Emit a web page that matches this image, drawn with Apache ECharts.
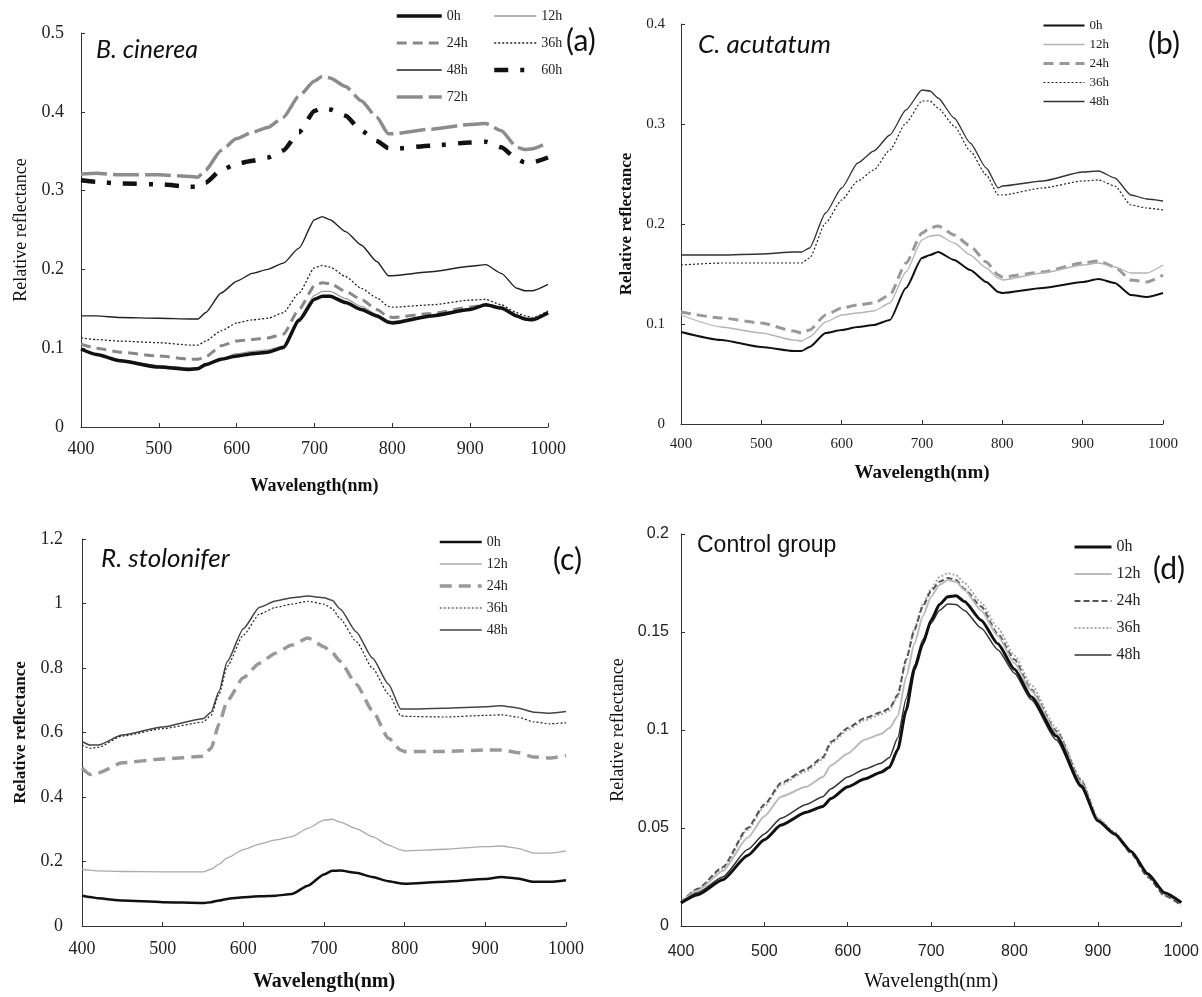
<!DOCTYPE html>
<html>
<head>
<meta charset="utf-8">
<title>Relative reflectance spectra</title>
<script src="https://cdn.jsdelivr.net/npm/echarts@6/dist/echarts.min.js"></script>
<style>
  html, body { margin: 0; padding: 0; background: #fff; }
  #wrap { position: relative; width: 1202px; height: 997px; }
  .panel { position: absolute; }
</style>
</head>
<body>
<div id="wrap">
  <div id="chartA" class="panel" style="left:0;top:0;width:600px;height:500px;"></div>
  <div id="chartB" class="panel" style="left:600px;top:0;width:602px;height:500px;"></div>
  <div id="chartC" class="panel" style="left:0;top:500px;width:600px;height:497px;"></div>
  <div id="chartD" class="panel" style="left:600px;top:500px;width:602px;height:497px;"></div>
</div>
<script>
// (a) B. cinerea
var wlA = [400, 420, 450, 500, 540, 550, 560, 580, 600, 620, 640, 660, 680, 700, 710, 720, 740, 760, 780, 795, 800, 850, 900, 920, 940, 960, 970, 980, 1000];
var a0h  = [0.099, 0.092, 0.084, 0.076, 0.073, 0.074, 0.079, 0.086, 0.090, 0.093, 0.095, 0.101, 0.135, 0.162, 0.166, 0.166, 0.158, 0.149, 0.141, 0.133, 0.132, 0.141, 0.149, 0.155, 0.151, 0.141, 0.137, 0.136, 0.145];
var a12h = [0.098, 0.092, 0.085, 0.078, 0.075, 0.075, 0.081, 0.087, 0.093, 0.096, 0.098, 0.103, 0.138, 0.167, 0.172, 0.172, 0.163, 0.153, 0.143, 0.135, 0.134, 0.141, 0.150, 0.155, 0.152, 0.140, 0.137, 0.137, 0.143];
var a24h = [0.105, 0.100, 0.095, 0.090, 0.086, 0.086, 0.089, 0.103, 0.109, 0.111, 0.113, 0.118, 0.149, 0.179, 0.183, 0.182, 0.172, 0.162, 0.149, 0.140, 0.139, 0.144, 0.152, 0.155, 0.151, 0.141, 0.138, 0.137, 0.145];
var a36h = [0.113, 0.111, 0.109, 0.107, 0.104, 0.104, 0.109, 0.122, 0.132, 0.136, 0.138, 0.145, 0.170, 0.202, 0.205, 0.203, 0.191, 0.176, 0.164, 0.153, 0.152, 0.155, 0.161, 0.162, 0.155, 0.145, 0.141, 0.139, 0.147];
var a48h = [0.141, 0.141, 0.139, 0.138, 0.137, 0.137, 0.145, 0.170, 0.185, 0.195, 0.200, 0.208, 0.227, 0.263, 0.267, 0.263, 0.248, 0.231, 0.210, 0.192, 0.192, 0.197, 0.204, 0.206, 0.195, 0.176, 0.173, 0.173, 0.181];
var a60h = [0.313, 0.311, 0.309, 0.308, 0.305, 0.305, 0.310, 0.326, 0.334, 0.338, 0.342, 0.351, 0.374, 0.401, 0.405, 0.403, 0.395, 0.376, 0.363, 0.354, 0.353, 0.357, 0.361, 0.362, 0.355, 0.340, 0.336, 0.336, 0.342];
var a72h = [0.321, 0.322, 0.320, 0.320, 0.318, 0.317, 0.326, 0.351, 0.366, 0.374, 0.380, 0.393, 0.420, 0.439, 0.445, 0.443, 0.432, 0.414, 0.393, 0.372, 0.372, 0.378, 0.384, 0.385, 0.376, 0.355, 0.352, 0.353, 0.361];

// (b) C. acutatum
var wlB = [400, 450, 500, 540, 550, 560, 580, 600, 620, 640, 660, 680, 700, 710, 720, 740, 760, 780, 795, 800, 850, 900, 920, 940, 960, 980, 1000];
var b0h  = [0.092, 0.084, 0.077, 0.073, 0.073, 0.077, 0.091, 0.094, 0.097, 0.099, 0.104, 0.136, 0.166, 0.169, 0.172, 0.164, 0.154, 0.142, 0.132, 0.131, 0.136, 0.142, 0.145, 0.141, 0.129, 0.127, 0.131];
var b12h = [0.109, 0.097, 0.091, 0.084, 0.083, 0.087, 0.102, 0.109, 0.111, 0.113, 0.121, 0.152, 0.184, 0.188, 0.189, 0.181, 0.169, 0.156, 0.146, 0.144, 0.151, 0.159, 0.161, 0.157, 0.151, 0.151, 0.159];
var b24h = [0.112, 0.106, 0.101, 0.093, 0.091, 0.094, 0.109, 0.116, 0.119, 0.121, 0.129, 0.161, 0.191, 0.196, 0.198, 0.189, 0.178, 0.162, 0.149, 0.147, 0.152, 0.161, 0.163, 0.157, 0.144, 0.142, 0.149];
var b36h = [0.159, 0.161, 0.161, 0.161, 0.161, 0.166, 0.201, 0.224, 0.243, 0.254, 0.274, 0.301, 0.323, 0.323, 0.316, 0.298, 0.273, 0.249, 0.229, 0.229, 0.236, 0.243, 0.244, 0.238, 0.219, 0.216, 0.214];
var b48h = [0.169, 0.169, 0.170, 0.172, 0.172, 0.176, 0.211, 0.236, 0.261, 0.273, 0.289, 0.314, 0.334, 0.333, 0.326, 0.306, 0.281, 0.256, 0.236, 0.238, 0.243, 0.252, 0.253, 0.246, 0.229, 0.225, 0.223];

// (c) R. stolonifer
var wlC = [400, 410, 420, 450, 500, 550, 560, 570, 580, 600, 620, 640, 660, 680, 700, 710, 720, 740, 760, 780, 795, 800, 850, 900, 920, 940, 960, 980, 1000];
var c0h  = [0.094, 0.090, 0.086, 0.079, 0.074, 0.071, 0.074, 0.079, 0.084, 0.089, 0.092, 0.094, 0.099, 0.125, 0.160, 0.171, 0.172, 0.165, 0.152, 0.139, 0.132, 0.131, 0.137, 0.146, 0.152, 0.147, 0.137, 0.137, 0.142];
var c12h = [0.176, 0.173, 0.171, 0.169, 0.168, 0.168, 0.176, 0.192, 0.211, 0.237, 0.254, 0.267, 0.277, 0.303, 0.328, 0.331, 0.322, 0.302, 0.277, 0.251, 0.236, 0.233, 0.238, 0.246, 0.248, 0.241, 0.226, 0.226, 0.233];
var c24h = [0.490, 0.470, 0.475, 0.506, 0.518, 0.526, 0.551, 0.627, 0.698, 0.770, 0.815, 0.846, 0.871, 0.893, 0.866, 0.848, 0.821, 0.750, 0.668, 0.582, 0.546, 0.541, 0.541, 0.546, 0.546, 0.538, 0.524, 0.521, 0.529];
var c36h = [0.561, 0.551, 0.554, 0.589, 0.612, 0.632, 0.653, 0.719, 0.805, 0.902, 0.967, 0.988, 0.998, 1.007, 0.998, 0.985, 0.953, 0.882, 0.800, 0.719, 0.653, 0.650, 0.648, 0.653, 0.655, 0.648, 0.633, 0.627, 0.630];
var c48h = [0.572, 0.561, 0.561, 0.592, 0.617, 0.643, 0.663, 0.729, 0.820, 0.922, 0.988, 1.008, 1.018, 1.023, 1.018, 1.010, 0.983, 0.912, 0.831, 0.750, 0.673, 0.673, 0.675, 0.680, 0.683, 0.676, 0.663, 0.660, 0.665];

// (d) Control group
var wlD = [400, 420, 450, 480, 500, 520, 550, 570, 580, 600, 620, 640, 650, 660, 670, 680, 690, 700, 710, 720, 730, 740, 760, 780, 800, 820, 850, 880, 900, 920, 940, 960, 980, 1000];
var d0h  = [0.0118, 0.016, 0.0236, 0.036, 0.044, 0.0515, 0.058, 0.061, 0.065, 0.071, 0.075, 0.0785, 0.081, 0.090, 0.110, 0.131, 0.144, 0.156, 0.164, 0.168, 0.1685, 0.1655, 0.156, 0.144, 0.131, 0.117, 0.097, 0.0716, 0.0537, 0.047, 0.038, 0.0265, 0.017, 0.012];
var d12h = [0.012, 0.018, 0.028, 0.045, 0.056, 0.066, 0.071, 0.076, 0.082, 0.088, 0.095, 0.098, 0.101, 0.107, 0.127, 0.144, 0.158, 0.168, 0.174, 0.1765, 0.1756, 0.1714, 0.161, 0.148, 0.134, 0.120, 0.0986, 0.0733, 0.0547, 0.047, 0.038, 0.027, 0.017, 0.012];
var d24h = [0.012, 0.019, 0.030, 0.050, 0.062, 0.073, 0.080, 0.086, 0.094, 0.101, 0.106, 0.109, 0.111, 0.118, 0.136, 0.151, 0.163, 0.171, 0.1756, 0.1775, 0.1765, 0.172, 0.163, 0.149, 0.136, 0.1206, 0.0995, 0.0741, 0.0547, 0.047, 0.037, 0.025, 0.0155, 0.0105];
var d36h = [0.012, 0.019, 0.029, 0.049, 0.061, 0.072, 0.079, 0.085, 0.093, 0.100, 0.105, 0.108, 0.110, 0.117, 0.135, 0.152, 0.164, 0.172, 0.178, 0.180, 0.179, 0.175, 0.165, 0.152, 0.138, 0.123, 0.101, 0.075, 0.055, 0.048, 0.038, 0.026, 0.016, 0.011];
var d48h = [0.012, 0.017, 0.025, 0.039, 0.047, 0.055, 0.062, 0.066, 0.070, 0.076, 0.080, 0.083, 0.086, 0.096, 0.116, 0.133, 0.146, 0.1545, 0.161, 0.1643, 0.164, 0.161, 0.152, 0.141, 0.129, 0.1156, 0.095, 0.0707, 0.0538, 0.047, 0.038, 0.0265, 0.017, 0.012];

var SERIF = "'Liberation Serif', 'DejaVu Serif', serif";
var SANS = "'Lato', 'Liberation Sans', sans-serif";

// 一条光谱曲线
function line(name, wl, vals, style) {
  return {
    name: name,
    type: 'line',
    symbol: 'none',
    smooth: 0.2,
    smoothMonotone: 'x',
    color: style.color,
    lineStyle: style,
    data: wl.map(function (w, i) { return [w, vals[i]]; })
  };
}

function legend(names, left, top, w, gap, size) {
  return {
    data: names, orient: 'vertical', left: left, top: top, padding: 0,
    itemWidth: w, itemHeight: 14, itemGap: gap,
    itemStyle: { opacity: 0 },
    lineStyle: { width: 'inherit' },
    textStyle: { fontFamily: SERIF, fontSize: size, color: '#222' }
  };
}

function label(text, left, top, size, family, italic) {
  return {
    text: text, left: left, top: top, padding: 0,
    textStyle: { fontFamily: family, fontSize: size, fontWeight: 'normal',
      fontStyle: italic ? 'italic' : 'normal', color: '#111' }
  };
}

function panel(p) {
  return {
    animation: false,
    title: p.titles,
    legend: p.legends,
    grid: p.grid,
    xAxis: {
      type: 'value', min: 400, max: 1000, interval: 100,
      name: 'Wavelength(nm)', nameLocation: 'middle', nameGap: p.xName[0],
      nameTextStyle: { fontFamily: SERIF, fontSize: p.xName[1], fontWeight: p.xName[2], color: '#111' },
      axisLine: { lineStyle: { color: '#333', width: 1 } },
      axisTick: { inside: true, length: 4, lineStyle: { color: '#333' } },
      axisLabel: { fontFamily: p.tickFont, fontSize: p.tickSize, color: '#222', margin: p.xMargin,
        formatter: function (v) { return String(v); } },
      splitLine: { show: false }
    },
    yAxis: {
      type: 'value', min: 0, max: p.yMax, interval: p.yStep,
      name: 'Relative reflectance', nameLocation: 'middle', nameGap: p.yName[0],
      nameTextStyle: { fontFamily: SERIF, fontSize: p.yName[1], fontWeight: p.yName[2], color: '#111' },
      axisLine: { show: true, lineStyle: { color: '#333', width: 1 } },
      axisTick: { show: true, inside: true, length: 4, lineStyle: { color: '#333' } },
      axisLabel: { fontFamily: p.tickFont, fontSize: p.tickSize, color: '#222', margin: p.yMargin },
      splitLine: { show: false }
    },
    series: p.series
  };
}

var optA = panel({
  grid: { left: 81, top: 33, width: 467, height: 397 },
  yMax: 0.5, yStep: 0.1, tickFont: SERIF, tickSize: 18, xMargin: 13, yMargin: 17,
  xName: [50, 18, 'bold'], yName: [49, 18, 'normal'],
  titles: [label('B. cinerea', 96, 37, 25, SANS, true), label('(a)', 566, 26, 30, SANS, false)],
  legends: [
    legend(['0h', '24h', '48h', '72h'], 395, 9, 45, 13, 14),
    legend(['12h', '36h', '60h'], 492, 9, 42, 13, 14)
  ],
  series: [
    line('72h', wlA, a72h, { color: '#8c8c8c', width: 3.5, type: [26, 6] }),
    line('60h', wlA, a60h, { color: '#111', width: 4.5, type: [14, 12, 4, 12] }),
    line('48h', wlA, a48h, { color: '#222', width: 1.4 }),
    line('36h', wlA, a36h, { color: '#222', width: 1.3, type: [2, 2] }),
    line('24h', wlA, a24h, { color: '#888', width: 3, type: [10, 6] }),
    line('12h', wlA, a12h, { color: '#9a9a9a', width: 1.3 }),
    line('0h', wlA, a0h, { color: '#111', width: 3.5 })
  ]
});

var optB = panel({
  grid: { left: 81, top: 24, width: 482, height: 400 },
  yMax: 0.4, yStep: 0.1, tickFont: SERIF, tickSize: 15, xMargin: 13, yMargin: 16,
  xName: [40, 19, 'bold'], yName: [45, 17, 'bold'],
  titles: [label('C. acutatum', 98, 32, 26, SANS, true), label('(b)', 548, 29, 30, SANS, false)],
  legends: [legend(['0h', '12h', '24h', '36h', '48h'], 442, 19, 41, 6, 13)],
  series: [
    line('48h', wlB, b48h, { color: '#333', width: 1.3 }),
    line('36h', wlB, b36h, { color: '#222', width: 1.2, type: [2, 2] }),
    line('24h', wlB, b24h, { color: '#999', width: 3, type: [10, 6] }),
    line('12h', wlB, b12h, { color: '#b4b4b4', width: 1.3 }),
    line('0h', wlB, b0h, { color: '#111', width: 2 })
  ]
});

var optC = panel({
  grid: { left: 82, top: 39, width: 484, height: 393 },
  yMax: 1.2, yStep: 0.2, tickFont: SERIF, tickSize: 18, xMargin: 14, yMargin: 19,
  xName: [46, 20, 'bold'], yName: [46, 17, 'bold'],
  titles: [label('R. stolonifer', 101, 46, 26, SANS, true), label('(c)', 553, 45, 30, SANS, false)],
  legends: [legend(['0h', '12h', '24h', '36h', '48h'], 438, 35, 42, 8, 14)],
  series: [
    line('48h', wlC, c48h, { color: '#444', width: 1.5 }),
    line('36h', wlC, c36h, { color: '#222', width: 1.2, type: [2, 2] }),
    line('24h', wlC, c24h, { color: '#999', width: 3.5, type: [12, 7] }),
    line('12h', wlC, c12h, { color: '#aaa', width: 1.3 }),
    line('0h', wlC, c0h, { color: '#111', width: 2.5 })
  ]
});

var optD = panel({
  grid: { left: 81, top: 34, width: 504, height: 395 },
  yMax: 0.2, yStep: 0.05, tickFont: "'Liberation Sans Narrow', 'Liberation Sans', sans-serif", tickSize: 16,
  xMargin: 18, yMargin: 12,
  xName: [46, 20, 'normal'], yName: [53, 18, 'normal'],
  titles: [label('Control group', 97, 34, 23, "'Liberation Sans', sans-serif", false), label('(d)', 553, 54, 30, SANS, false)],
  legends: [legend(['0h', '12h', '24h', '36h', '48h'], 473, 39, 37, 11, 16)],
  series: [
    line('36h', wlD, d36h, { color: '#aaa', width: 2, type: [2, 2] }),
    line('24h', wlD, d24h, { color: '#555', width: 2, type: [6, 3] }),
    line('12h', wlD, d12h, { color: '#bbb', width: 2 }),
    line('48h', wlD, d48h, { color: '#333', width: 1.5 }),
    line('0h', wlD, d0h, { color: '#111', width: 3 })
  ]
});

echarts.init(document.getElementById('chartA')).setOption(optA);
echarts.init(document.getElementById('chartB')).setOption(optB);
echarts.init(document.getElementById('chartC')).setOption(optC);
echarts.init(document.getElementById('chartD')).setOption(optD);
</script>
</body>
</html>
